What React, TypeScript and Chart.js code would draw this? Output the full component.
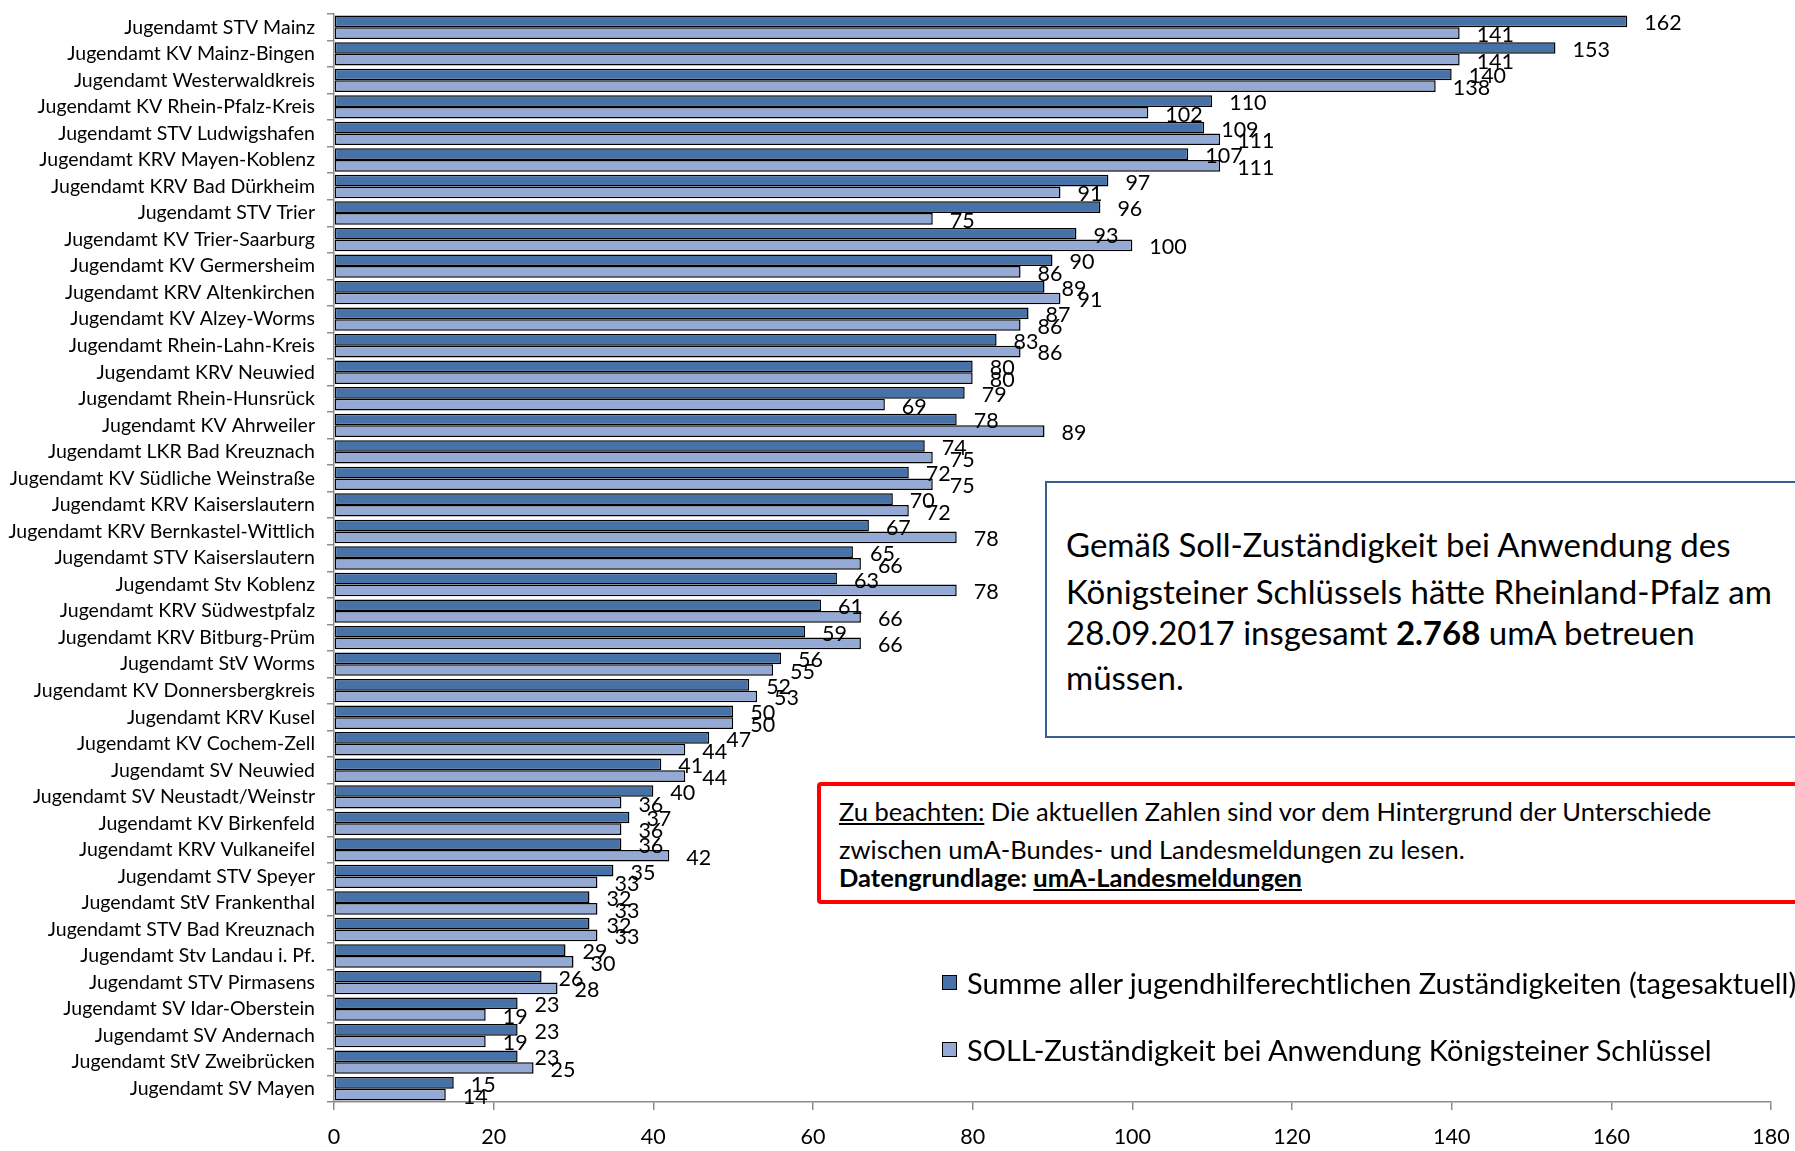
import React, { useEffect, useRef } from "react";
import { Chart, registerables } from "chart.js";

Chart.register(...registerables);

const categories = [
  "Jugendamt STV Mainz",
  "Jugendamt KV Mainz-Bingen",
  "Jugendamt Westerwaldkreis",
  "Jugendamt KV Rhein-Pfalz-Kreis",
  "Jugendamt STV Ludwigshafen",
  "Jugendamt KRV Mayen-Koblenz",
  "Jugendamt KRV Bad Dürkheim",
  "Jugendamt STV Trier",
  "Jugendamt KV Trier-Saarburg",
  "Jugendamt KV Germersheim",
  "Jugendamt KRV Altenkirchen",
  "Jugendamt KV Alzey-Worms",
  "Jugendamt Rhein-Lahn-Kreis",
  "Jugendamt KRV Neuwied",
  "Jugendamt Rhein-Hunsrück",
  "Jugendamt KV Ahrweiler",
  "Jugendamt LKR Bad Kreuznach",
  "Jugendamt KV Südliche Weinstraße",
  "Jugendamt KRV Kaiserslautern",
  "Jugendamt KRV Bernkastel-Wittlich",
  "Jugendamt STV Kaiserslautern",
  "Jugendamt Stv Koblenz",
  "Jugendamt KRV Südwestpfalz",
  "Jugendamt KRV Bitburg-Prüm",
  "Jugendamt StV Worms",
  "Jugendamt KV Donnersbergkreis",
  "Jugendamt KRV Kusel",
  "Jugendamt KV Cochem-Zell",
  "Jugendamt SV Neuwied",
  "Jugendamt SV Neustadt/Weinstr",
  "Jugendamt KV Birkenfeld",
  "Jugendamt KRV Vulkaneifel",
  "Jugendamt STV Speyer",
  "Jugendamt StV Frankenthal",
  "Jugendamt STV Bad Kreuznach",
  "Jugendamt Stv Landau i. Pf.",
  "Jugendamt STV Pirmasens",
  "Jugendamt SV Idar-Oberstein",
  "Jugendamt SV Andernach",
  "Jugendamt StV Zweibrücken",
  "Jugendamt SV Mayen",
];

const istValues = [
  162, 153, 140, 110, 109, 107, 97, 96, 93, 90, 89, 87, 83, 80, 79, 78, 74, 72, 70, 67, 65,
  63, 61, 59, 56, 52, 50, 47, 41, 40, 37, 36, 35, 32, 32, 29, 26, 23, 23, 23, 15,
];

const sollValues = [
  141, 141, 138, 102, 111, 111, 91, 75, 100, 86, 91, 86, 86, 80, 69, 89, 75, 75, 72, 78, 66,
  78, 66, 66, 55, 53, 50, 44, 44, 36, 36, 42, 33, 33, 33, 30, 28, 19, 19, 25, 14,
];

const xTickValues = [0, 20, 40, 60, 80, 100, 120, 140, 160, 180];

const seriesNames = [
  "Summe aller jugendhilferechtlichen Zuständigkeiten (tagesaktuell)",
  "SOLL-Zuständigkeit bei Anwendung Königsteiner Schlüssel",
];
const seriesColors = ["#4672A8", "#94AAD4"];

const FONT = "Lato, 'Open Sans', sans-serif";

const valueLabels = {
  id: "valueLabels",
  afterDatasetsDraw(chart: any) {
    const ctx = chart.ctx;
    ctx.save();
    ctx.font = `21.5px ${FONT}`;
    ctx.fillStyle = "#000";
    ctx.textAlign = "left";
    ctx.textBaseline = "middle";
    chart.data.datasets.forEach((ds: any, i: number) => {
      const meta = chart.getDatasetMeta(i);
      meta.data.forEach((el: any, j: number) => {
        const v = ds.data[j];
        ctx.fillText(String(v), el.x + 17, el.y + 2);
      });
    });
    ctx.restore();
  },
};

export default function App() {
  const canvasRef = useRef<HTMLCanvasElement | null>(null);

  useEffect(() => {
    if (!canvasRef.current) return;
    const chart = new Chart(canvasRef.current, {
      type: "bar",
      data: {
        labels: categories,
        datasets: [
          {
            label: seriesNames[0],
            data: istValues,
            backgroundColor: seriesColors[0],
            borderColor: "#000000",
            borderWidth: 1.5,
            borderSkipped: false,
            categoryPercentage: 0.88,
            barPercentage: 1.0,
          },
          {
            label: seriesNames[1],
            data: sollValues,
            backgroundColor: seriesColors[1],
            borderColor: "#000000",
            borderWidth: 1.5,
            borderSkipped: false,
            categoryPercentage: 0.88,
            barPercentage: 1.0,
          },
        ],
      },
      options: {
        indexAxis: "y",
        animation: false,
        responsive: false,
        devicePixelRatio: 1,
        layout: { padding: { top: 14, right: 24, left: 0, bottom: 0 } },
        plugins: {
          legend: { display: false },
          tooltip: { enabled: false },
        },
        scales: {
          x: {
            type: "linear",
            min: 0,
            max: 180,
            afterBuildTicks: (scale: any) => {
              scale.ticks = xTickValues.map((v) => ({ value: v }));
            },
            afterFit: (scale: any) => {
              scale.height = 49;
              scale.paddingLeft = 0;
              scale.paddingRight = 0;
              scale.paddingTop = 0;
              scale.paddingBottom = 0;
            },
            ticks: {
              font: { family: FONT, size: 21.5 },
              color: "#000",
              padding: 14,
              maxRotation: 0,
              autoSkip: false,
            },
            grid: {
              display: true,
              drawOnChartArea: false,
              drawTicks: true,
              tickLength: 8,
              color: "#8C8C8C",
              lineWidth: 1.5,
            },
            border: { display: true, color: "#8C8C8C", width: 1.5 },
          },
          y: {
            type: "category",
            offset: true,
            afterFit: (scale: any) => {
              scale.width = 334;
              scale.paddingLeft = 0;
              scale.paddingRight = 0;
              scale.paddingTop = 0;
              scale.paddingBottom = 0;
            },
            ticks: {
              font: { family: FONT, size: 19.5 },
              color: "#000",
              padding: 12,
              autoSkip: false,
            },
            grid: {
              display: true,
              offset: true,
              drawOnChartArea: false,
              drawTicks: true,
              tickLength: 7,
              color: "#8C8C8C",
              lineWidth: 1.5,
            },
            border: { display: true, color: "#8C8C8C", width: 1.5 },
          },
        },
      },
      plugins: [valueLabels],
    } as any);
    return () => chart.destroy();
  }, []);

  const abs = (left: number, top: number, extra: React.CSSProperties = {}): React.CSSProperties => ({
    position: "absolute",
    left,
    top,
    whiteSpace: "nowrap",
    fontFamily: FONT,
    color: "#000",
    ...extra,
  });

  const blueLine = { fontSize: 33, lineHeight: "44px" };
  const redLine = { fontSize: 25.5, lineHeight: "30px" };

  return (
    <div
      style={{
        position: "absolute",
        left: 0,
        top: 0,
        width: 1795,
        height: 1151,
        overflow: "hidden",
        background: "#fff",
      }}
    >
      <canvas ref={canvasRef} width={1795} height={1151} style={{ display: "block" }} />

      {/* Blue info box */}
      <div
        style={{
          position: "absolute",
          left: 1045,
          top: 481,
          width: 900,
          height: 257,
          border: "2px solid #3A5F8E",
          background: "#fff",
          boxSizing: "border-box",
        }}
      />
      <div style={abs(1066, 544 - 22, blueLine)}>Gemäß Soll-Zuständigkeit bei Anwendung des</div>
      <div style={abs(1066, 591 - 22, blueLine)}>
        Königsteiner Schlüssels hätte Rheinland-Pfalz am
      </div>
      <div style={abs(1066, 632 - 22, blueLine)}>
        28.09.2017 insgesamt <b>2.768</b> umA betreuen
      </div>
      <div style={abs(1066, 677 - 22, blueLine)}>müssen.</div>

      {/* Red note box */}
      <div
        style={{
          position: "absolute",
          left: 817,
          top: 782,
          width: 1100,
          height: 122,
          border: "4.5px solid #FF0000",
          borderRadius: 4,
          background: "#fff",
          boxSizing: "border-box",
        }}
      />
      <div style={abs(839, 811 - 15, redLine)}>
        <u>Zu beachten:</u> Die aktuellen Zahlen sind vor dem Hintergrund der Unterschiede
      </div>
      <div style={abs(839, 849 - 15, redLine)}>
        zwischen umA-Bundes- und Landesmeldungen zu lesen.
      </div>
      <div style={abs(839, 877 - 15, { ...redLine, fontWeight: 700 })}>
        Datengrundlage: <u>umA-Landesmeldungen</u>
      </div>

      {/* Legend */}
      {seriesNames.map((name, i) => (
        <div
          key={name}
          style={abs(942, (i === 0 ? 982 : 1049) - 18, {
            height: 36,
            display: "flex",
            alignItems: "center",
            fontSize: 29,
          })}
        >
          <span
            style={{
              display: "inline-block",
              width: 15,
              height: 15,
              background: seriesColors[i],
              border: "1.5px solid #000",
              boxSizing: "border-box",
              marginRight: 10,
            }}
          />
          <span>{name}</span>
        </div>
      ))}
    </div>
  );
}
